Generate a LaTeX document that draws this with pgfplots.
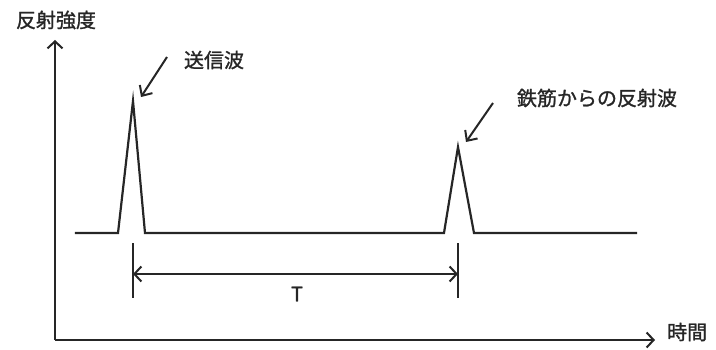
\documentclass[border=0pt]{standalone}
\usepackage{fontspec}
\setmainfont{Noto Sans CJK JP}[FakeBold=1.2]
\usepackage{pgfplots}
\pgfplotsset{compat=1.18}
\usetikzlibrary{arrows.meta}
\definecolor{ink}{HTML}{262626}

\begin{document}
\begin{tikzpicture}[font=\fontsize{20}{24}\selectfont]
\begin{axis}[x=1pt,y=1pt,
  xmin=0,xmax=600,ymin=0,ymax=300,
  axis lines=left,
  axis line style={ink,line width=2pt,-{Straight Barb[length=7pt,width=15pt,line width=2pt]}},
  xtick=\empty,ytick=\empty,
  xlabel={時間},ylabel={反射強度},
  every axis x label/.style={at={(axis cs:612,8)},anchor=west,inner sep=0pt,text=ink},
  every axis y label/.style={at={(axis cs:1,320)},anchor=center,inner sep=0pt,text=ink},
  clip=false]
% signal: baseline with transmitted pulse and rebar echo
\addplot[ink,line width=2.2pt,line join=miter] coordinates {
 (20,107)(63,107)(78,239)(90,107)(389,107)(403,193)(419,107)(582,107)};
% invisible frame fixing the page size
\path (axis cs:-55,-9) rectangle (axis cs:661,340);
% time interval T
\draw[ink,line width=2pt] (axis cs:78,97)--(axis cs:78,42);
\draw[ink,line width=2pt] (axis cs:403,97)--(axis cs:403,42);
\draw[ink,line width=2pt,{Straight Barb[length=7pt,width=15pt]}-{Straight Barb[length=7pt,width=15pt]}]
  (axis cs:78,66)--(axis cs:403,66);
\node[ink,inner sep=0pt] at (axis cs:242,46) {T};
% callouts
\draw[ink,line width=2pt,-{Straight Barb[length=8pt,width=15pt]}] (axis cs:112,283)--(axis cs:86,243);
\node[ink,inner sep=0pt] at (axis cs:159,280) {送信波};
\draw[ink,line width=2pt,-{Straight Barb[length=8pt,width=15pt]}] (axis cs:438,237)--(axis cs:411,198);
\node[ink,inner sep=0pt] at (axis cs:542,242) {鉄筋からの反射波};
\end{axis}
\end{tikzpicture}
\end{document}
